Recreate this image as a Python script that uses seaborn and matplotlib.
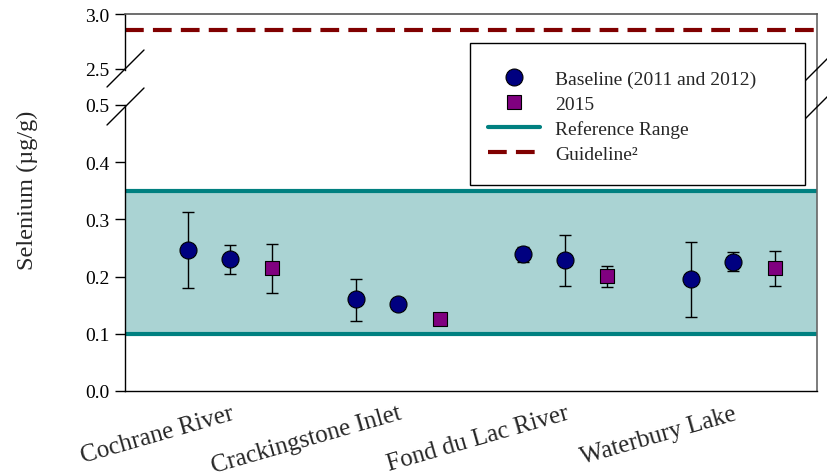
import numpy as np
import pandas as pd
import matplotlib
matplotlib.use("Agg")
import matplotlib.pyplot as plt
import seaborn as sns
from matplotlib.lines import Line2D
from matplotlib.patches import Rectangle

# ---------------- data ----------------
sites = ["Cochrane River", "Crackingstone Inlet", "Fond du Lac River", "Waterbury Lake"]

base_2011 = [0.247, 0.160, 0.239, 0.196]
base_2011_lo = [0.180, 0.122, 0.226, 0.129]
base_2011_hi = [0.313, 0.196, 0.252, 0.261]

base_2012 = [0.231, 0.152, 0.229, 0.226]
base_2012_lo = [0.205, np.nan, 0.184, 0.209]
base_2012_hi = [0.256, np.nan, 0.272, 0.243]

y2015 = [0.215, 0.126, 0.201, 0.215]
y2015_lo = [0.172, np.nan, 0.182, 0.184]
y2015_hi = [0.257, np.nan, 0.219, 0.245]

ref_low, ref_high = 0.10, 0.35
guideline = 2.85

yticks_lower = [0.0, 0.1, 0.2, 0.3, 0.4, 0.5]
yticks_upper = [2.5, 3.0]

legend_labels = ["Baseline (2011 and 2012)", "2015", "Reference Range", "Guideline\u00b2"]

# ---------------- style ----------------
sns.set_style("ticks")
plt.rcParams["font.family"] = ["Liberation Serif", "DejaVu Serif"]

navy = "#000080"
purple = "#800080"
teal = "#008080"
band = "#aad3d3"
darkred = "#800000"

rows = []
for i, s in enumerate(sites):
    rows.append(dict(site=s, x=4 * i + 0, value=base_2011[i], lo=base_2011_lo[i], hi=base_2011_hi[i], series="Baseline"))
    rows.append(dict(site=s, x=4 * i + 1, value=base_2012[i], lo=base_2012_lo[i], hi=base_2012_hi[i], series="Baseline"))
    rows.append(dict(site=s, x=4 * i + 2, value=y2015[i], lo=y2015_lo[i], hi=y2015_hi[i], series="2015"))
df = pd.DataFrame(rows)

W, H = 828, 477
fig = plt.figure(figsize=(W / 100, H / 100), dpi=100)

left_px, right_px = 125, 817
low_bot_px, low_top_px = 392, 106
up_bot_px, up_top_px = 71, 15

ax = fig.add_axes([left_px / W, 1 - low_bot_px / H, (right_px - left_px) / W, (low_bot_px - low_top_px) / H])
axu = fig.add_axes([left_px / W, 1 - up_bot_px / H, (right_px - left_px) / W, (up_bot_px - up_top_px) / H])

xlim = (-1.5, 15.0)
tick_fs = 14

# lower axes
ax.axhspan(ref_low, ref_high, color=band, zorder=0, lw=0)
ax.axhline(ref_low, color=teal, lw=3, zorder=1)
ax.axhline(ref_high, color=teal, lw=3, zorder=1)

eb = df.dropna(subset=["lo", "hi"])
ax.errorbar(eb["x"], eb["value"], yerr=[eb["value"] - eb["lo"], eb["hi"] - eb["value"]],
            fmt="none", ecolor="black", elinewidth=1, capsize=4.5, capthick=1, zorder=2)

sns.scatterplot(data=df[df.series == "Baseline"], x="x", y="value", ax=ax, marker="o",
                s=150, color=navy, edgecolor="black", linewidth=0.8, zorder=3, legend=False)
sns.scatterplot(data=df[df.series == "2015"], x="x", y="value", ax=ax, marker="s",
                s=110, color=purple, edgecolor="black", linewidth=0.8, zorder=3, legend=False)

ax.set_xlim(*xlim)
ax.set_ylim(0, 0.5)
ax.set_yticks(yticks_lower)
ax.set_yticklabels([f"{v:.1f}" for v in yticks_lower])
ax.set_xticks([4 * i + 1 for i in range(len(sites))])
ax.set_xticklabels(sites, rotation=16, ha="right", va="top", rotation_mode="anchor", fontsize=18)
ax.tick_params(axis="x", length=0, pad=8)
ax.tick_params(axis="y", direction="out", length=7, width=1, labelsize=tick_fs, colors="black", pad=4)
ax.set_xlabel("")
ax.set_ylabel("")
for sp in ["left", "bottom"]:
    ax.spines[sp].set_color("black")
    ax.spines[sp].set_linewidth(1)
ax.spines["top"].set_visible(False)
ax.spines["right"].set_visible(True)
ax.spines["right"].set_color("#666666")
ax.spines["right"].set_linewidth(1.2)

# upper axes
axu.axhline(guideline, color=darkred, lw=3, dashes=(4.5, 2.2), zorder=1)
axu.set_xlim(*xlim)
axu.set_ylim(2.49, 3.0)
axu.set_yticks(yticks_upper)
axu.set_yticklabels([f"{v:.1f}" for v in yticks_upper])
axu.set_xticks([])
axu.tick_params(axis="y", direction="out", length=7, width=1, labelsize=tick_fs, colors="black", pad=4)
axu.spines["bottom"].set_visible(False)
axu.spines["left"].set_color("black")
axu.spines["left"].set_linewidth(1)
axu.spines["top"].set_color("#555555")
axu.spines["top"].set_linewidth(1.2)
axu.spines["right"].set_color("#666666")
axu.spines["right"].set_linewidth(1.2)
axu.set_facecolor("none")

# connect right spine across the break and draw break marks
inv = fig.transFigure.inverted()
def fig_line(p0, p1, **kw):
    a = inv.transform(p0)
    b = inv.transform(p1)
    fig.add_artist(Line2D([a[0], b[0]], [a[1], b[1]], transform=fig.transFigure, **kw))

rx = right_px
fig_line((rx, H - up_bot_px), (rx, H - low_top_px), color="#666666", lw=1.2)
for x_px in (left_px, right_px):
    for y_px in (70, 108):
        cy = H - y_px
        fig_line((x_px - 18, cy - 18), (x_px + 19, cy + 19), color="black", lw=1)

# y label
fig.text(27 / W, 1 - 190 / H, "Selenium (\u00b5g/g)", rotation=90, va="center", ha="center", fontsize=17.5)

# legend box
rect = Rectangle((470 / W, 1 - 186 / H), 335 / W, 142 / H, transform=fig.transFigure,
                 facecolor="white", edgecolor="black", lw=1, zorder=4)
fig.add_artist(rect)

handles = [
    Line2D([], [], marker="o", ls="none", markerfacecolor=navy, markeredgecolor="black", markersize=12.2, markeredgewidth=0.8),
    Line2D([], [], marker="s", ls="none", markerfacecolor=purple, markeredgecolor="black", markersize=10.5, markeredgewidth=0.8),
    Line2D([], [], color=teal, lw=3),
    Line2D([], [], color=darkred, lw=3, dashes=(4.5, 2.2)),
]
leg = fig.legend(handles, legend_labels, loc="upper left", bbox_to_anchor=(488 / W, 1 - 71 / H),
                 frameon=False, fontsize=14, handlelength=2.7, handletextpad=0.75,
                 labelspacing=0.38, borderpad=0, borderaxespad=0)
leg.set_zorder(5)

fig.savefig("out.png", dpi=100)
